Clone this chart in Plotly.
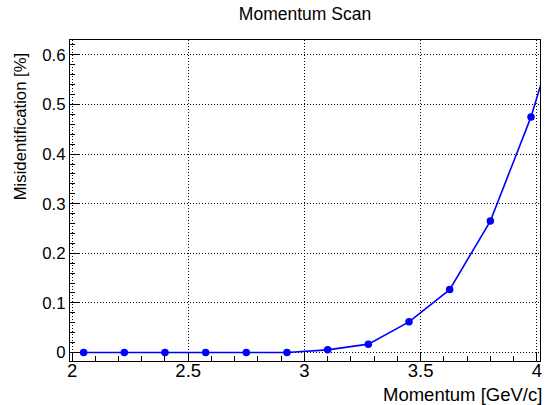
import plotly.graph_objects as go

# Momentum scan: misidentification probability vs. track momentum
momentum = [2.05, 2.225, 2.40, 2.575, 2.75, 2.925, 3.10, 3.275, 3.45, 3.625, 3.80, 3.975, 4.15]
misid_pct = [0.0, 0.0, 0.0, 0.0, 0.0, 0.0, 0.0054, 0.0169, 0.0618, 0.1268, 0.265, 0.475, 0.745]

x_ticks = [2, 2.5, 3, 3.5, 4]
x_tick_text = ["2", "2.5", "3", "3.5", "4"]
y_ticks = [0, 0.1, 0.2, 0.3, 0.4, 0.5, 0.6]
y_tick_text = ["0", "0.1", "0.2", "0.3", "0.4", "0.5", "0.6"]

FONT = "Liberation Sans, Arial, sans-serif"
BLUE = "#0000ff"

fig = go.Figure()
fig.add_trace(go.Scatter(
    x=momentum, y=misid_pct,
    mode="lines+markers",
    line=dict(color=BLUE, width=1.6),
    marker=dict(color=BLUE, size=7.5, symbol="circle"),
    cliponaxis=True,
    showlegend=False,
))

axis_common = dict(
    showline=True, linecolor="black", linewidth=1, mirror=True,
    ticks="inside", tickcolor="black", tickwidth=1,
    showgrid=True, gridcolor="black", gridwidth=1, griddash="1px,2px",
    zeroline=False,
)

fig.update_xaxes(
    range=[1.9913, 4.0137],
    tickmode="array", tickvals=x_ticks, ticktext=x_tick_text,
    ticklen=9,
    ticklabelstandoff=-7,
    tickfont=dict(family=FONT, size=18.5, color="black"),
    minor=dict(dtick=0.1, tick0=2, ticks="inside", ticklen=5, tickcolor="black", showgrid=False),
    **axis_common,
)
fig.update_yaxes(
    range=[-0.0171, 0.630],
    tickmode="array", tickvals=y_ticks, ticktext=y_tick_text,
    ticklen=9,
    tickfont=dict(family=FONT, size=16.8, color="black"),
    minor=dict(dtick=0.02, tick0=0, ticks="inside", ticklen=4.5, tickcolor="black", showgrid=False),
    **axis_common,
)

fig.update_layout(
    width=545, height=405,
    margin=dict(l=70, r=3, t=40, b=44),
    paper_bgcolor="white", plot_bgcolor="white",
    font=dict(family=FONT, color="black"),
    title=dict(
        text="Momentum Scan",
        x=0.5, xref="paper", xanchor="center",
        y=1 - 14 / 405, yref="container", yanchor="middle",
        font=dict(family=FONT, size=17.5, color="black"),
    ),
    annotations=[
        dict(
            text="Momentum [GeV/c]",
            xref="paper", yref="paper", x=1, y=0,
            xanchor="right", yanchor="middle", xshift=4, yshift=-33,
            showarrow=False,
            font=dict(family=FONT, size=18.5, color="black"),
        ),
        dict(
            text="Misidentification [%]",
            xref="paper", yref="paper", x=0, y=0.728,
            xanchor="center", yanchor="middle", xshift=-50,
            textangle=-90, showarrow=False,
            font=dict(family=FONT, size=16.7, color="black"),
        ),
    ],
)

fig.write_html("out.html")
